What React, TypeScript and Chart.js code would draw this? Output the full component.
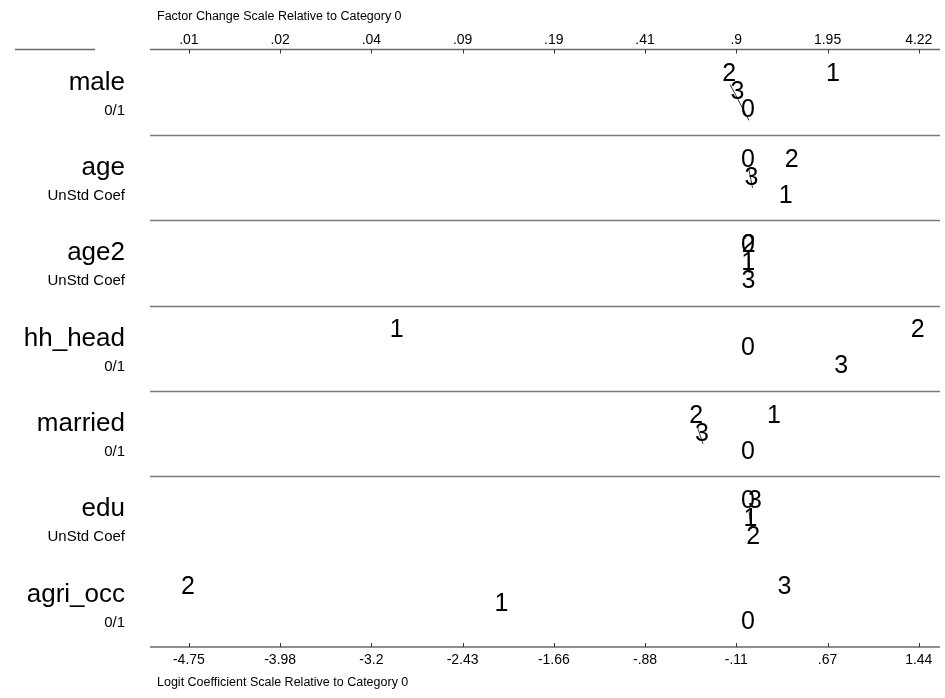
import React, { useEffect, useRef } from 'react';
import { Chart, registerables } from 'chart.js';

Chart.register(...registerables);

// ---------------- data ----------------
const variables = ['male', 'age', 'age2', 'hh_head', 'married', 'edu', 'agri_occ'];
const varTypes = ['0/1', 'UnStd Coef', 'UnStd Coef', '0/1', '0/1', 'UnStd Coef', '0/1'];
const categories = ['0', '1', '2', '3'];
// logit coefficients relative to category 0, one array per outcome category
const coefCat0 = [0, 0, 0, 0, 0, 0, 0];
const coefCat1 = [0.72, 0.32, 0.002, -2.98, 0.22, 0.02, -2.09];
const coefCat2 = [-0.16, 0.37, 0.006, 1.44, -0.44, 0.045, -4.75];
const coefCat3 = [-0.09, 0.03, 0.004, 0.79, -0.39, 0.06, 0.31];
const coefByCat = [coefCat0, coefCat1, coefCat2, coefCat3];
// pairs of categories connected (not significantly different): variable, catA, catB
const linkVar = [0, 1, 2, 4, 5];
const linkCatA = [2, 0, 0, 2, 0];
const linkCatB = [0, 3, 1, 3, 1];
// axis ticks
const logitTicks = [-4.75, -3.97625, -3.2025, -2.42875, -1.655, -0.88125, -0.1075, 0.66625, 1.44];
const logitTickLabels = ['-4.75', '-3.98', '-3.2', '-2.43', '-1.66', '-.88', '-.11', '.67', '1.44'];
const factorTickLabels = ['.01', '.02', '.04', '.09', '.19', '.41', '.9', '1.95', '4.22'];
const topTitle = 'Factor Change Scale Relative to Category 0';
const bottomTitle = 'Logit Coefficient Scale Relative to Category 0';

const LEVEL_FRAC = [0.41, 0.62, 0.83];

function levelsFor(i: number): number[] {
  const vals = coefByCat.map((arr) => arr[i]);
  const order = vals.map((v, k) => k).sort((a, b) => vals[a] - vals[b] || a - b);
  const lv = new Array(vals.length).fill(0);
  order.forEach((k, rank) => { lv[k] = rank % 3; });
  return lv;
}

export default function App() {
  const ref = useRef<HTMLCanvasElement | null>(null);

  useEffect(() => {
    if (!ref.current) return;
    const family = '"Liberation Sans", Arial, sans-serif';
    const tickSize = 14;
    const titleSize = 12.5;

    const levels = variables.map((_, i) => levelsFor(i));

    const linkDatasets = linkVar.map((vi, k) => ({
      type: 'line' as const,
      label: 'link' + k,
      data: [linkCatA[k], linkCatB[k]].map((c) => ({ x: coefByCat[c][vi], y: vi + LEVEL_FRAC[levels[vi][c]] })),
      borderColor: '#000',
      borderWidth: 0.8,
      pointRadius: 0,
      fill: false,
    }));

    const catDatasets = categories.map((cat, c) => ({
      type: 'scatter' as const,
      label: cat,
      data: variables.map((_, i) => ({ x: coefByCat[c][i], y: i + LEVEL_FRAC[levels[i][c]] })),
      pointRadius: 0,
      pointHoverRadius: 0,
      showLine: false,
    }));
    const catOffset = linkDatasets.length;

    const ticksFor = (labels: string[]) => ({
      autoSkip: false,
      maxRotation: 0,
      minRotation: 0,
      color: '#000',
      font: { family, size: tickSize },
      callback: (_v: any, idx: number) => labels[idx],
    });

    const overlay = {
      id: 'overlay',
      afterDatasetsDraw(chart: any) {
        const ctx = chart.ctx;
        const xs = chart.scales.x;
        const ys = chart.scales.y;
        const area = chart.chartArea;
        ctx.save();
        // separators between variables
        ctx.strokeStyle = '#7a7a7a';
        ctx.lineWidth = 1.5;
        for (let i = 1; i <= 5; i++) {
          const y = Math.round(ys.getPixelForValue(i)) + 0.5;
          ctx.beginPath();
          ctx.moveTo(area.left, y);
          ctx.lineTo(area.right, y);
          ctx.stroke();
        }
        // axis lines
        ctx.strokeStyle = '#6a6a6a';
        ctx.beginPath();
        ctx.moveTo(area.left, area.top);
        ctx.lineTo(area.right, area.top);
        ctx.moveTo(area.left, area.bottom);
        ctx.lineTo(area.right, area.bottom);
        ctx.moveTo(15, area.top);
        ctx.lineTo(95, area.top);
        ctx.stroke();
        // inward ticks
        ctx.strokeStyle = '#333';
        ctx.lineWidth = 1;
        logitTicks.forEach((v) => {
          const x = Math.round(xs.getPixelForValue(v)) + 0.5;
          ctx.beginPath();
          ctx.moveTo(x, area.top);
          ctx.lineTo(x, area.top + 4);
          ctx.moveTo(x, area.bottom);
          ctx.lineTo(x, area.bottom - 4);
          ctx.stroke();
        });
        // axis titles
        ctx.fillStyle = '#000';
        ctx.font = `${titleSize}px ${family}`;
        ctx.textAlign = 'left';
        ctx.textBaseline = 'middle';
        ctx.fillText(topTitle, 157, 17);
        ctx.fillText(bottomTitle, 157, 683);
        // variable labels
        ctx.textAlign = 'right';
        variables.forEach((name, i) => {
          const top = ys.getPixelForValue(i);
          const h = ys.getPixelForValue(i + 1) - top;
          ctx.font = `26px ${family}`;
          ctx.fillText(name, 125, top + h * 0.385);
          ctx.font = `15px ${family}`;
          ctx.fillText(varTypes[i], 125, top + h * 0.715);
        });
        // category markers as text
        ctx.textAlign = 'center';
        ctx.font = `25px ${family}`;
        categories.forEach((cat, c) => {
          const meta = chart.getDatasetMeta(catOffset + c);
          meta.data.forEach((el: any) => {
            ctx.fillText(cat, el.x - 1, el.y - 10);
          });
        });
        ctx.restore();
      },
    };

    const chart = new Chart(ref.current, {
      type: 'scatter',
      data: { datasets: [...linkDatasets, ...catDatasets] as any },
      options: {
        animation: false,
        responsive: false,
        devicePixelRatio: 1,
        events: [],
        layout: { padding: { left: 150, right: 5, top: 0, bottom: 0 } },
        plugins: { legend: { display: false }, tooltip: { enabled: false } },
        scales: {
          x: {
            type: 'linear',
            position: 'bottom',
            min: -5.08,
            max: 1.62,
            afterBuildTicks: (s: any) => { s.ticks = logitTicks.map((v) => ({ value: v })); },
            afterFit: (s: any) => { s.height = 51; },
            ticks: { ...ticksFor(logitTickLabels), padding: 5 },
            grid: { display: false, drawTicks: false },
            border: { display: false },
          },
          x2: {
            type: 'linear',
            position: 'top',
            min: -5.08,
            max: 1.62,
            afterBuildTicks: (s: any) => { s.ticks = logitTicks.map((v) => ({ value: v })); },
            afterFit: (s: any) => { s.height = 49.5; },
            ticks: { ...ticksFor(factorTickLabels), padding: 1 },
            grid: { display: false, drawTicks: false },
            border: { display: false },
          },
          y: { type: 'linear', min: 0, max: 7, reverse: true, display: false },
        },
      } as any,
      plugins: [overlay],
    });
    return () => chart.destroy();
  }, []);

  return (
    <div style={{ position: 'fixed', left: 0, top: 0, width: 945, height: 698, background: '#fff' }}>
      <canvas ref={ref} width={945} height={698} />
    </div>
  );
}
